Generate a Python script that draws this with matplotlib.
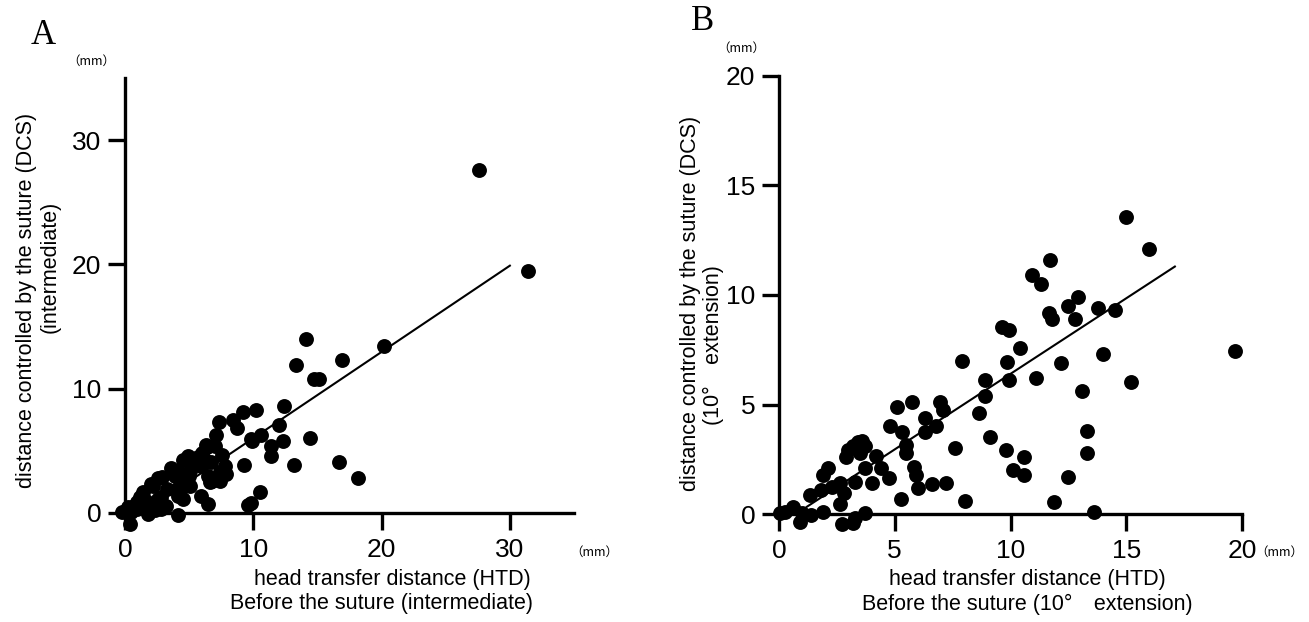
import numpy as np
import matplotlib
matplotlib.use("Agg")
import matplotlib.pyplot as plt

# ---- data (mm) ----
# panel A: intermediate
a_htd = [27.6, 31.4, 20.2, 14.1, 13.3, 16.9, 14.7, 15.1,
         10.2, 12.4, 12.0, 10.6, 9.9, 12.3, 11.4, 11.4, 14.4, 13.2, 16.7, 18.2, 10.5, 9.8,
         9.2, 8.4, 8.7, 7.3, 7.1, 7.0, 6.4, 7.6, 9.3,
         4.9, 4.5, 5.7, 5.9, 3.6, 4.1, 5.1, 7.8, 7.4, 7.9, 6.5, 7.4, 6.6, 2.9, 2.2,
         4.6, 4.6, 5.1, 4.1, 4.5, 4.1, 5.9, 6.5, 1.4, 1.2, 2.8, 1.8, 1.8, 0.7, 0.1,
         -0.2, 0.4, 0.9, 2.8, 3.2, 6.7, 6.3, 2.6, 2.0, 4.7, 4.45, 4.05, 6.8, 2.6,
         0.9, 0.25, 2.35, 9.6, 9.85, 5.3, 6.0, 5.5, 6.2, 3.9, 5.0, 3.3, 1.6, 0.5]
a_dcs = [27.6, 19.5, 13.4, 14.0, 11.9, 12.3, 10.8, 10.8,
         8.3, 8.6, 7.1, 6.3, 5.8, 5.8, 5.4, 4.6, 6.0, 3.9, 4.1, 2.8, 1.7, 0.8,
         8.1, 7.5, 6.8, 7.3, 6.3, 5.4, 5.3, 4.7, 3.9,
         4.6, 4.3, 4.5, 3.8, 3.6, 3.4, 3.4, 3.8, 3.3, 3.1, 3.0, 2.6, 2.5, 2.9, 2.2,
         2.7, 2.2, 2.2, 1.4, 1.1, -0.2, 1.4, 0.7, 1.7, 1.3, 1.3, 0.7, -0.1, 0.6, 0.2,
         0.05, -0.9, 0.3, 0.3, 0.6, 4.1, 5.5, 2.8, 2.3, 2.95, 2.45, 1.9, 2.55, 1.1,
         0.9, 0.5, 0.25, 0.65, 5.95, 3.9, 4.8, 4.1, 4.3, 3.0, 3.0, 1.9, 1.0, 0.1]
a_slope, a_icpt = 0.694, -0.92
a_fit_x = [0.0, 30.0]

# panel B: 10 deg extension
b_htd = [15.0, 16.0, 11.7, 10.95, 11.3, 12.9, 12.5, 13.8, 14.5, 11.65, 11.8, 12.8,
         9.65, 9.95, 10.4, 9.85, 12.2, 14.0, 19.7, 8.9, 9.95, 11.1, 15.2, 13.1, 8.9,
         8.65, 13.3, 9.1, 13.3, 9.8, 10.6, 10.1, 10.6, 12.5, 11.9, 13.6,
         7.9, 5.75, 5.1, 6.95, 7.1, 6.3, 4.8, 5.3, 6.3, 6.8, 7.6, 5.5, 5.5, 5.85, 5.9,
         6.0, 6.6, 7.2, 5.25, 8.05,
         3.4, 3.2, 3.0, 3.7, 3.5, 2.9, 4.2, 3.7, 4.4, 4.75, 4.0, 3.3, 2.1, 1.9, 2.65,
         2.8, 1.8, 1.35, 2.3, 2.65, 1.9, 0.6, 0.26, 1.0, 0.9, 1.4, 2.7, 3.2, 3.7, 3.3,
         0.04, 3.6]
b_dcs = [13.55, 12.1, 11.6, 10.9, 10.5, 9.9, 9.5, 9.4, 9.3, 9.2, 8.9, 8.9,
         8.55, 8.4, 7.6, 6.95, 6.9, 7.3, 7.45, 6.1, 6.1, 6.2, 6.05, 5.6, 5.4,
         4.6, 3.8, 3.5, 2.8, 2.9, 2.6, 2.0, 1.8, 1.7, 0.56, 0.08,
         7.0, 5.1, 4.9, 5.1, 4.75, 4.4, 4.0, 3.75, 3.75, 4.0, 3.0, 3.15, 2.8, 2.15, 1.8,
         1.17, 1.37, 1.4, 0.68, 0.6,
         3.3, 3.1, 2.9, 3.1, 2.8, 2.6, 2.65, 2.1, 2.1, 1.66, 1.43, 1.45, 2.1, 1.8, 1.4,
         0.95, 1.1, 0.87, 1.25, 0.44, 0.1, 0.33, 0.1, 0.03, -0.35, -0.05, -0.47, -0.43, 0.03, -0.2,
         0.03, 3.35]
b_slope, b_icpt = 0.69, -0.5
b_fit_x = [1.2, 17.1]

W, H = 1309, 622
fig = plt.figure(figsize=(W / 100, H / 100), dpi=100)

def box(l, t, r, b):
    return [l / W, 1 - b / H, (r - l) / W, (b - t) / H]

def ftxt(x, y, s, **kw):
    fig.text(x / W, 1 - y / H, s, ha="center", va="center", **kw)

sans = ["Liberation Sans", "Noto Sans CJK JP"]

def style(ax, lim, ticks):
    ax.set_xlim(0, lim[0])
    ax.set_ylim(0, lim[1])
    for s in ["top", "right"]:
        ax.spines[s].set_visible(False)
    for s in ["left", "bottom"]:
        ax.spines[s].set_linewidth(2.4)
    ax.set_xticks(ticks[0])
    ax.set_yticks(ticks[1])
    ax.tick_params(direction="out", length=12, width=2.4, labelsize=19, pad=5)
    ax.tick_params(axis="x", pad=6)
    for lab in ax.get_xticklabels() + ax.get_yticklabels():
        lab.set_family(sans)

axA = fig.add_axes(box(125, 78, 574, 513))
style(axA, (35, 35), ([0, 10, 20, 30], [0, 10, 20, 30]))
axA.scatter(a_htd, a_dcs, s=115, c="black", linewidths=0, clip_on=False, zorder=3)
fx = np.array(a_fit_x)
axA.plot(fx, a_slope * fx + a_icpt, color="black", lw=1.5, zorder=2)

axB = fig.add_axes(box(779, 76, 1242, 514))
style(axB, (20, 20), ([0, 5, 10, 15, 20], [0, 5, 10, 15, 20]))
axB.scatter(b_htd, b_dcs, s=115, c="black", linewidths=0, clip_on=False, zorder=3)
fx = np.array(b_fit_x)
axB.plot(fx, b_slope * fx + b_icpt, color="black", lw=1.5, zorder=2)

# panel letters
ftxt(43, 35, "A", family="Liberation Serif", fontsize=25)
ftxt(703, 22, "B", family="Liberation Serif", fontsize=25)

# unit marks
ftxt(91, 61, "（mm）", family=sans[::-1], fontsize=9)
ftxt(741, 48, "（mm）", family=sans[::-1], fontsize=9)
ftxt(594, 552, "（mm）", family=sans[::-1], fontsize=9)
ftxt(1279, 552, "（mm）", family=sans[::-1], fontsize=9)

# axis titles
ftxt(392, 580, "head transfer distance (HTD)", family=sans, fontsize=15.5)
ftxt(381, 604, "Before the suture (intermediate)", family=sans, fontsize=15.5)
ftxt(1027, 580, "head transfer distance (HTD)", family=sans, fontsize=15.5)
ftxt(1027, 604, "Before the suture (10°\u3000extension)", family=sans, fontsize=15.5)

ftxt(27, 300, "distance controlled by the suture (DCS)", family=sans, fontsize=15.5, rotation=90)
ftxt(50, 267, "(intermediate)", family=sans, fontsize=15.5, rotation=90)
ftxt(690, 303, "distance controlled by the suture (DCS)", family=sans, fontsize=15.5, rotation=90)
ftxt(713, 345, "(10°\u3000extension)", family=sans, fontsize=15.5, rotation=90)

fig.savefig("out.png", dpi=100)
